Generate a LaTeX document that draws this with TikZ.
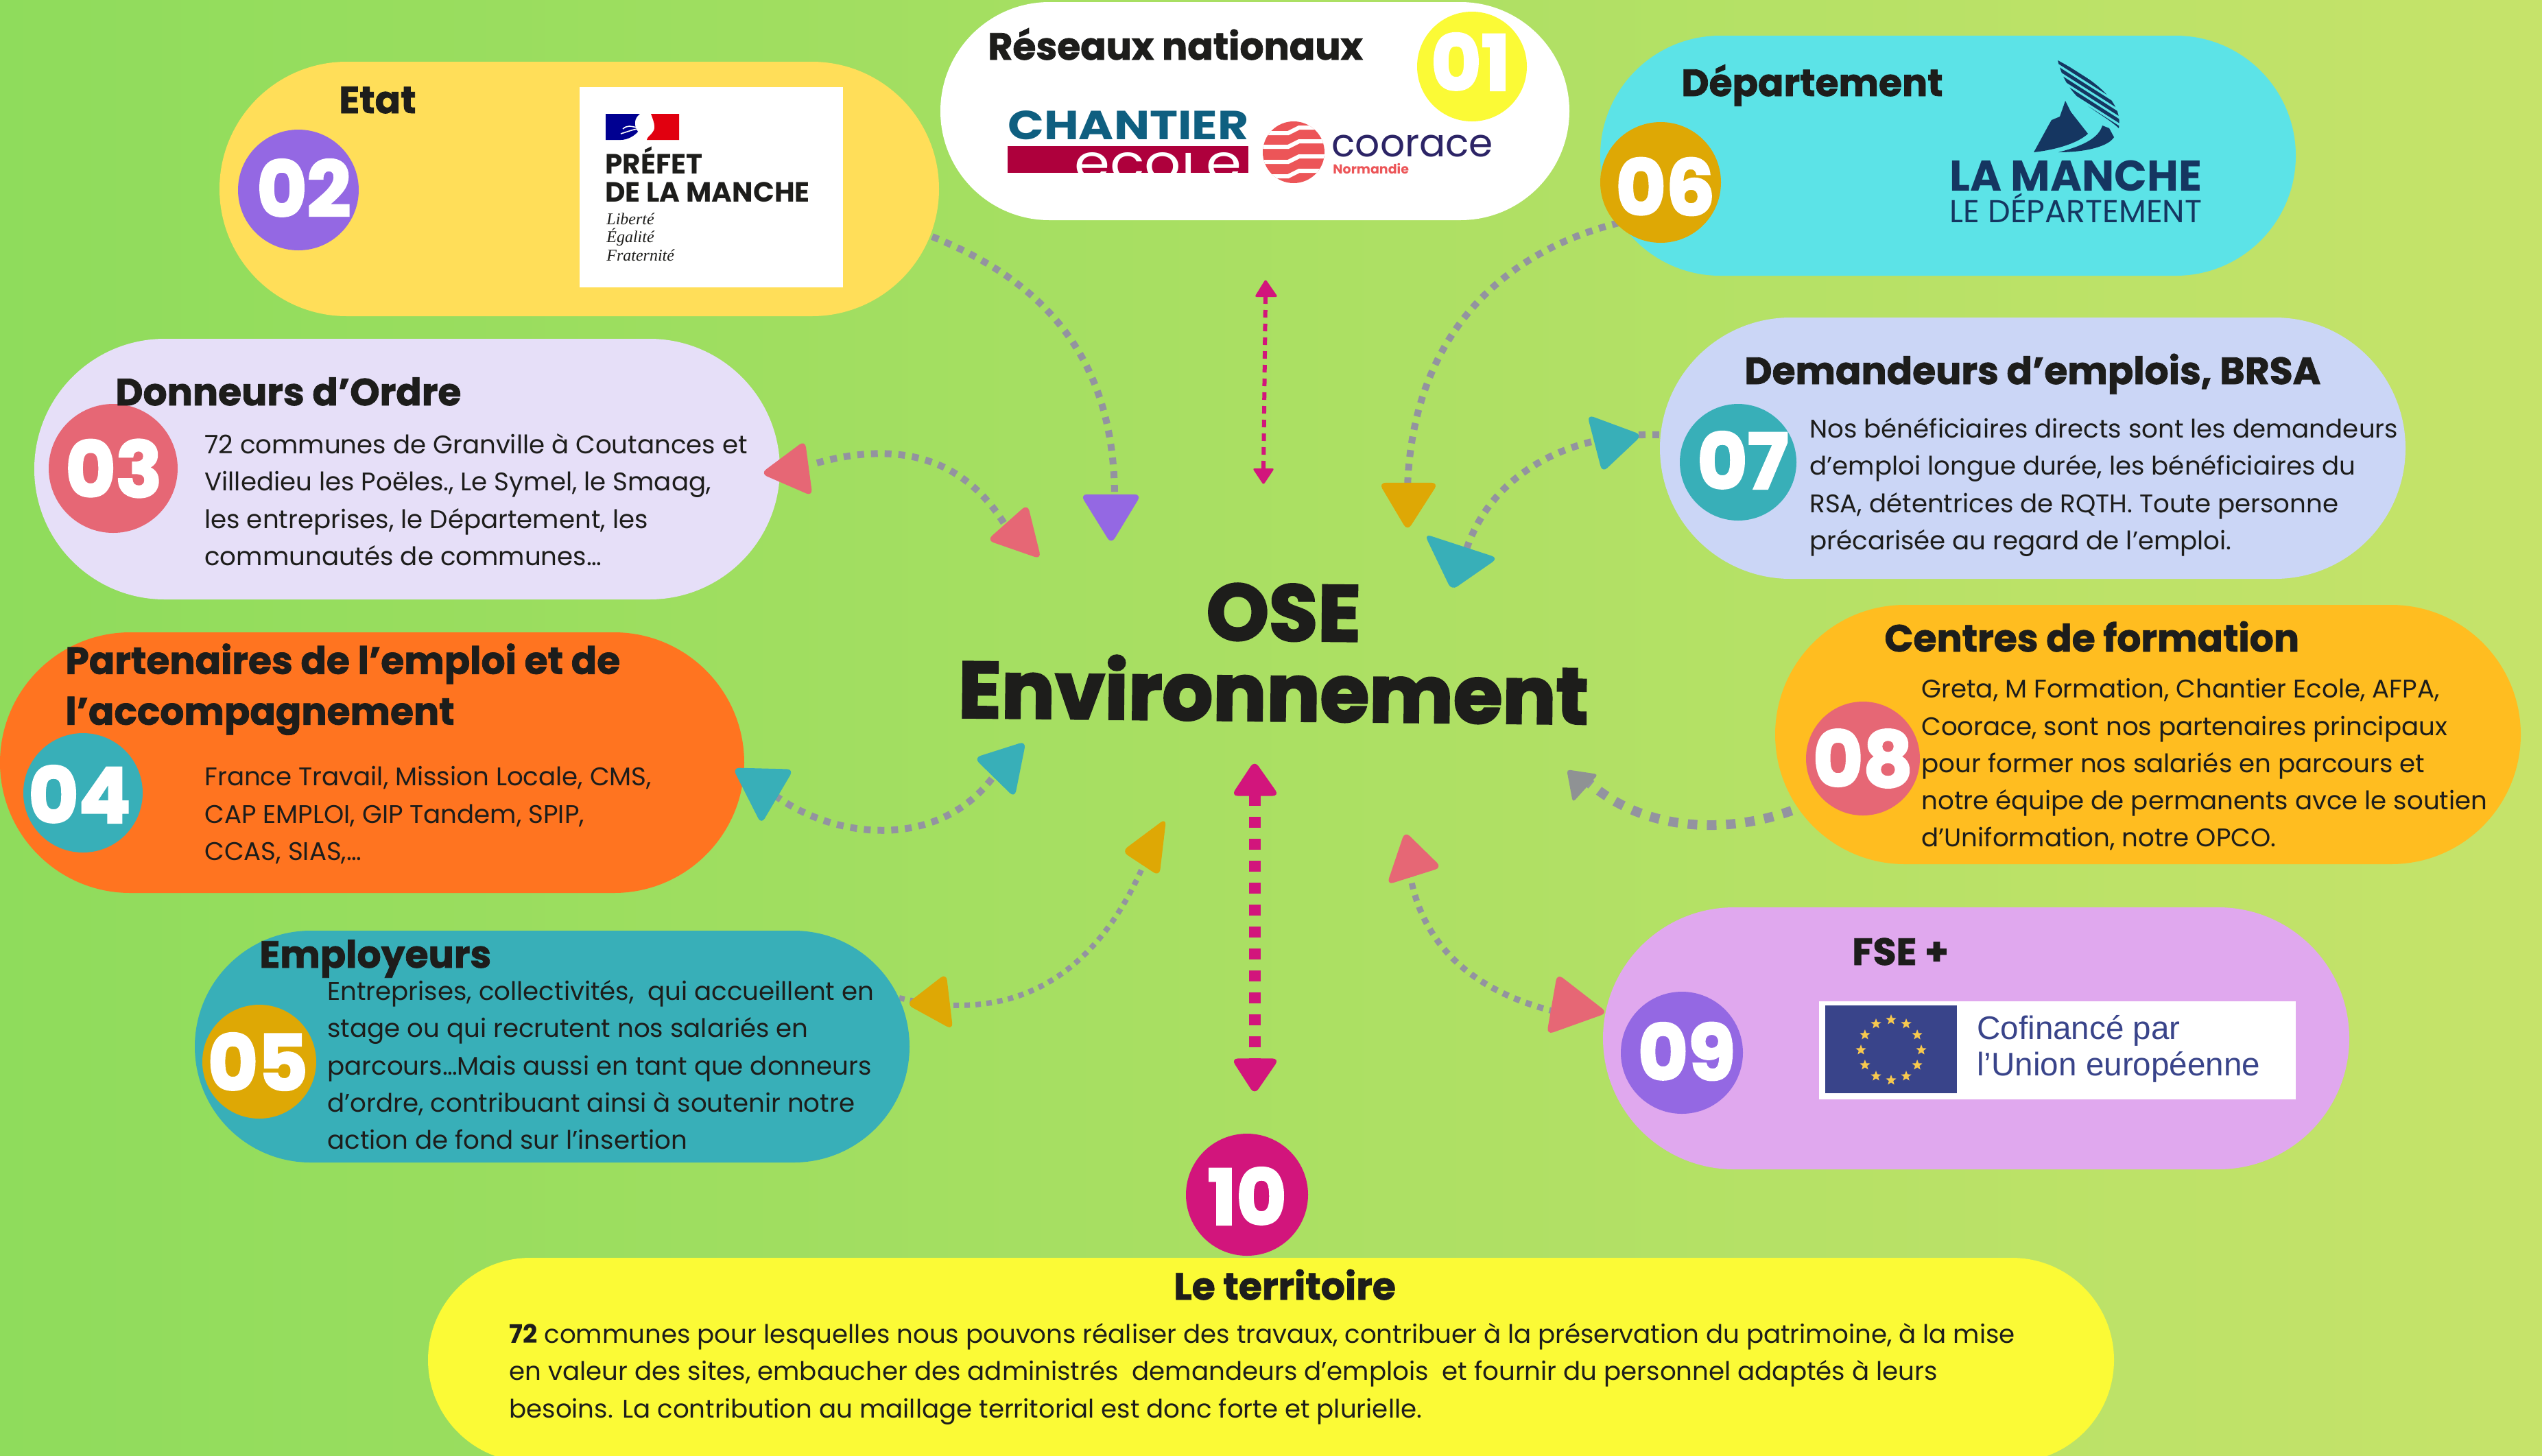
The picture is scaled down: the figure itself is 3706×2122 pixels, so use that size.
\documentclass[tikz,border=0pt]{standalone}
\usepackage{fontspec}
\usepackage{graphicx}
\usetikzlibrary{shapes.misc,shapes.geometric,fit,calc}
\setmainfont{Poppins}
\newfontfamily\hv{Poppins}[BoldFeatures={FakeBold=1.4}]
\newfontfamily\hvv{Poppins}[BoldFeatures={FakeBold=2.6}]
\newfontfamily\ser{Liberation Serif}
\newfontfamily\ari{Liberation Sans}
\definecolor{bgl}{HTML}{8FDC5C}
\definecolor{bgr}{HTML}{C6E36A}
\definecolor{ink}{HTML}{1D1D1B}
\definecolor{cgray}{HTML}{9393A0}
\definecolor{cgrayb}{HTML}{8F9294}
\definecolor{cmag}{HTML}{D2157C}
\definecolor{cteal}{HTML}{38AFB8}
\definecolor{ccoral}{HTML}{E66775}
\definecolor{cpurp}{HTML}{9468E3}
\definecolor{camb}{HTML}{DEA805}
\definecolor{cyel}{HTML}{FFDE59}
\definecolor{ccyan}{HTML}{5CE3E7}
\definecolor{cperi}{HTML}{CBD6F6}
\definecolor{clav}{HTML}{E6DFF8}
\definecolor{corg}{HTML}{FF7420}
\definecolor{cgold}{HTML}{FFBD20}
\definecolor{cpink}{HTML}{E0A8EE}
\definecolor{clem}{HTML}{FBFA36}
\definecolor{navy}{HTML}{153661}
\definecolor{eub}{HTML}{39448A}
\definecolor{eus}{HTML}{F8C94E}
\definecolor{rfb}{HTML}{000091}
\definecolor{rfr}{HTML}{E1000F}
\definecolor{chb}{HTML}{0F5F80}
\definecolor{chr}{HTML}{AE003C}
\definecolor{cop}{HTML}{2C2466}
\definecolor{cor}{HTML}{EC5558}
\tikzset{
 pill/.style={rounded rectangle,inner sep=0pt,outer sep=0pt,fill=#1,draw=none},
 numc/.style={circle,fill=#1,inner sep=0pt},
 numt/.style={inner sep=0pt,text=white,font=\hvv\bfseries\fontsize{56}{56}\selectfont},
 head/.style={anchor=base west,inner sep=0pt,text=ink,font=\hv\bfseries\fontsize{27.6}{27.6}\selectfont},
 body/.style={anchor=north west,inner sep=0pt,text=ink,align=left,font=\fontsize{18.6}{27.15}\selectfont},
 link/.style={draw=cgray,line width=#1pt,dash pattern=on #1pt off #1pt},
 tipshape/.style={fill=#1,rounded corners=5pt},
 eustar/.style={star,star points=5,star point ratio=2.4,fill=#1,inner sep=0pt,minimum size=8pt},
 logotext/.style={anchor=base west,inner sep=0pt,text=#1},
}
\newcommand{\tipmark}[4]{\coordinate (cc) at (barycentric cs:#2=1,#3=1,#4=1);
 \fill[tipshape=#1] ($(cc)!1.1!(#2)$)--($(cc)!1.1!(#3)$)--($(cc)!1.1!(#4)$)--cycle;}
\begin{document}
\begin{tikzpicture}[x=0.5pt,y=-0.5pt]
\useasboundingbox (0,0) rectangle (3706,2122);
\clip (0,0) rectangle (3706,2122);
\shade[left color=bgl,right color=bgr] (0,0) rectangle (3706,2122);
% connector ends
\coordinate (a1) at (1359,345); \coordinate (a2) at (1625,726);
\coordinate (b1) at (2360,325); \coordinate (b2) at (2052,710);
\coordinate (c1) at (1191,675); \coordinate (c2) at (1465,765);
\coordinate (d1) at (2419,634); \coordinate (d2) at (2135,810);
\coordinate (e1) at (1130,1160); \coordinate (e2) at (1450,1130);
\coordinate (f1) at (1311,1455); \coordinate (f2) at (1672,1250);
\coordinate (g1) at (2055,1270); \coordinate (g2) at (2290,1480);
\coordinate (h1) at (2612,1182); \coordinate (h2) at (2315,1140);
\coordinate (m1) at (1845,432); \coordinate (m2) at (1842,683);
\coordinate (n1) at (1829,1159); \coordinate (n2) at (1829,1545);
% connectors
\draw[link=5] (a1) .. controls (1520,410) and (1625,520) .. (a2);
\draw[link=5] (b1) .. controls (2200,365) and (2060,480) .. (b2);
\draw[link=5] (c1) .. controls (1300,645) and (1400,660) .. (c2);
\draw[link=5] (d1) .. controls (2290,630) and (2170,690) .. (d2);
\draw[link=5] (e1) .. controls (1220,1225) and (1370,1240) .. (e2);
\draw[link=4] (f1) .. controls (1500,1500) and (1610,1400) .. (f2);
\draw[link=4.5] (g1) .. controls (2070,1370) and (2140,1450) .. (g2);
\draw[link=7] (h1) .. controls (2520,1215) and (2400,1215) .. (h2);
\draw[draw=cmag,line width=3pt,dash pattern=on 5.5pt off 4.5pt] (m1) -- (m2);
\draw[draw=cmag,line width=8.5pt,dash pattern=on 8pt off 8pt] (n1) -- (n2);
% pills
\node[pill=white,fit={(1530,3) (2129,321)}] (p01) {};
\node[pill=cyel,fit={(505.5,90) (1183.5,461)}] (p02) {};
\node[pill=clav,fit={(240,494) (947,874)}] (p03) {};
\node[pill=corg,fit={(190,922) (895,1302)}] (p04) {};
\node[pill=cteal,fit={(453,1357) (1157,1695)}] (p05) {};
\node[pill=ccyan,fit={(2508,52) (3172,402)}] (p06) {};
\node[pill=cperi,fit={(2610.5,463) (3316.5,844)}] (p07) {};
\node[pill=cgold,fit={(2777,882) (3486,1260)}] (p08) {};
\node[pill=cpink,fit={(2528,1323) (3234,1705)}] (p09) {};
\node[pill=clem,fit={(773,1834) (2933,2132)}] (p10) {};
% tips
\coordinate (t1a) at (1579,723);\coordinate (t1b) at (1660,723);\coordinate (t1c) at (1620,789);
\tipmark{cpurp}{t1a}{t1b}{t1c}
\coordinate (t2a) at (2014,706);\coordinate (t2b) at (2093,706);\coordinate (t2c) at (2052,770);
\tipmark{camb}{t2a}{t2b}{t2c}
\coordinate (t3a) at (1113,690);\coordinate (t3b) at (1172,646);\coordinate (t3c) at (1182,720);
\tipmark{ccoral}{t3a}{t3b}{t3c}
\coordinate (t4a) at (1497,739);\coordinate (t4b) at (1443,787);\coordinate (t4c) at (1515,812);
\tipmark{ccoral}{t4a}{t4b}{t4c}
\coordinate (t5a) at (2317,608);\coordinate (t5b) at (2390,635);\coordinate (t5c) at (2337,685);
\tipmark{cteal}{t5a}{t5b}{t5c}
\coordinate (t6a) at (2081,782);\coordinate (t6b) at (2179,814);\coordinate (t6c) at (2117,857);
\tipmark{cteal}{t6a}{t6b}{t6c}
\coordinate (t7a) at (1072,1122);\coordinate (t7b) at (1153,1124);\coordinate (t7c) at (1110,1197);
\tipmark{cteal}{t7a}{t7b}{t7c}
\coordinate (t8a) at (1493,1084);\coordinate (t8b) at (1424,1106);\coordinate (t8c) at (1478,1159);
\tipmark{cteal}{t8a}{t8b}{t8c}
\coordinate (t9a) at (2284,1122);\coordinate (t9b) at (2330,1129);\coordinate (t9c) at (2293,1170);
\fill[fill=cgrayb,rounded corners=2.5pt] (t9a)--(t9b)--(t9c)--cycle;
\coordinate (t10a) at (1829,1112);\coordinate (t10b) at (1798,1159);\coordinate (t10c) at (1862,1159);
\tipmark{cmag}{t10a}{t10b}{t10c}
\coordinate (t11a) at (1798,1545);\coordinate (t11b) at (1862,1545);\coordinate (t11c) at (1829,1593);
\tipmark{cmag}{t11a}{t11b}{t11c}
\coordinate (t12a) at (1698,1197);\coordinate (t12b) at (1639,1241);\coordinate (t12c) at (1689,1274);
\tipmark{camb}{t12a}{t12b}{t12c}
\coordinate (t13a) at (1378,1423);\coordinate (t13b) at (1325,1464);\coordinate (t13c) at (1387,1498);
\tipmark{camb}{t13a}{t13b}{t13c}
\coordinate (t14a) at (2049,1216);\coordinate (t14b) at (2098,1264);\coordinate (t14c) at (2025,1287);
\tipmark{ccoral}{t14a}{t14b}{t14c}
\coordinate (t15a) at (2272,1424);\coordinate (t15b) at (2339,1476);\coordinate (t15c) at (2258,1505);
\tipmark{ccoral}{t15a}{t15b}{t15c}
\coordinate (t16a) at (1845,407);\coordinate (t16b) at (1829,433);\coordinate (t16c) at (1863,433);
\fill[fill=cmag,rounded corners=1.5pt] (t16a)--(t16b)--(t16c)--cycle;
\coordinate (t17a) at (1826,683);\coordinate (t17b) at (1858,683);\coordinate (t17c) at (1842,707);
\fill[fill=cmag,rounded corners=1.5pt] (t17a)--(t17b)--(t17c)--cycle;
% numbers
\node[numc=clem,minimum size=80pt] (n01) at (2146,97) {};
\node[numt] (d01) at (2144,90) {01};
\node[numc=cpurp,minimum size=88pt] (n02) at (435,277) {};
\node[numt] (d02) at (443,274) {02};
\node[numc=ccoral,minimum size=94pt] (n03) at (165,683) {};
\node[numt] (d03) at (166,683) {03};
\node[numc=cteal,minimum size=87pt] (n04) at (121,1156) {};
\node[numt] (d04) at (116,1158) {04};
\node[numc=camb,minimum size=83pt] (n05) at (378,1548) {};
\node[numt] (d05) at (376,1548) {05};
\node[numc=camb,minimum size=88pt] (n06) at (2421,266) {};
\node[numt] (d06) at (2428,272) {06};
\node[numc=cteal,minimum size=85pt] (n07) at (2534,674) {};
\node[numt] (d07) at (2541,671) {07};
\node[numc=ccoral,minimum size=83pt] (n08) at (2716,1106) {};
\node[numt] (d08) at (2716,1106) {08};
\node[numc=cpurp,minimum size=89pt] (n09) at (2452,1535) {};
\node[numt] (d09) at (2459,1533) {09};
\node[numc=cmag,minimum size=89pt] (n10) at (1818,1742) {};
\node[numt] (d10) at (1818,1744) {10};
% headings
\node[head] (h01) at (1440,87) {Réseaux nationaux};
\node[head] (h02) at (494,165) {Etat};
\node[head] (h03) at (168,591) {Donneurs d’Ordre};
\node[head,align=left,anchor=north west,font=\hv\bfseries\fontsize{27.6}{37}\selectfont] (h04) at (95,938) {Partenaires de l’emploi et de\\l’accompagnement};
\node[head] (h05) at (378,1411) {Employeurs};
\node[head] (h06) at (2451,140) {Département};
\node[head] (h07) at (2543,560) {Demandeurs d’emplois, BRSA};
\node[head] (h08) at (2747,950) {Centres de formation};
\node[head] (h09) at (2700,1407) {FSE +};
\node[head] (h10) at (1711,1895) {Le territoire};
% body text
\node[body] (b03) at (298,632) {72 communes de Granville à Coutances et\\Villedieu les Poëles., Le Symel, le Smaag,\\les entreprises, le Département, les\\communautés de communes…};
\node[body] (b04) at (298,1117) {France Travail, Mission Locale, CMS,\\CAP EMPLOI, GIP Tandem, SPIP,\\CCAS, SIAS,…};
\node[body] (b05) at (477,1429) {Entreprises, collectivités,\ \ qui accueillent en\\stage ou qui recrutent nos salariés en\\parcours…Mais aussi en tant que donneurs\\d’ordre, contribuant ainsi à soutenir notre\\action de fond sur l’insertion};
\node[body] (b07) at (2638,609) {Nos bénéficiaires directs sont les demandeurs\\d’emploi longue durée, les bénéficiaires du\\RSA, détentrices de RQTH. Toute personne\\précarisée au regard de l’emploi.};
\node[body] (b08) at (2801,989) {Greta, M Formation, Chantier Ecole, AFPA,\\Coorace, sont nos partenaires principaux\\pour former nos salariés en parcours et\\notre équipe de permanents avce le soutien\\d’Uniformation, notre OPCO.};
\node[body] (b10) at (742,1929) {\textbf{72} communes pour lesquelles nous pouvons réaliser des travaux, contribuer à la préservation du patrimoine, à la mise\\en valeur des sites, embaucher des administrés\ \ demandeurs d’emplois\ \ et fournir du personnel adaptés à leurs\\besoins. La contribution au maillage territorial est donc forte et plurielle.};
% centre
\node[anchor=base,inner sep=0pt,text=ink,rotate=-0.6,font=\hvv\bfseries\fontsize{58}{58}\selectfont] (ose1) at (1871,934) {OSE};
\node[anchor=base,inner sep=0pt,text=ink,rotate=-0.6,font=\hvv\bfseries\fontsize{58}{58}\selectfont] (ose2) at (1856,1051) {Environnement};
% Prefet logo
\fill[white] (845,127) rectangle (1229,419);
\fill[rfb] (883,166) -- (933,166) .. controls (925,172) and (923,182) .. (930,192) .. controls (925,198) and (915,204) .. (905,204) -- (883,204) -- cycle;
\fill[rfr] (949,166) -- (990,166) -- (990,204) -- (943,204) .. controls (943,200) and (950,196) .. (952,192) .. controls (957,186) and (952,174) .. (949,166) -- cycle;
\draw[white,line width=0.8pt] (905,195) .. controls (915,192) and (925,188) .. (931,188);
\draw[white,line width=0.8pt] (908,188) .. controls (915,182) and (920,184) .. (928,186);
\node[logotext=ink,font=\bfseries\fontsize{20.3}{20.3}\selectfont] (pf1) at (882,253) {PRÉFET};
\node[logotext=ink,font=\bfseries\fontsize{20.3}{20.3}\selectfont] (pf2) at (882,294) {DE LA MANCHE};
\node[logotext=ink,font=\ser\itshape\fontsize{12}{12}\selectfont] (pf3) at (884,327) {Liberté};
\node[logotext=ink,font=\ser\itshape\fontsize{12}{12}\selectfont] (pf4) at (884,353) {Égalité};
\node[logotext=ink,font=\ser\itshape\fontsize{12}{12}\selectfont] (pf5) at (884,380) {Fraternité};
% Chantier Ecole logo
\node[anchor=base west,inner sep=0pt,text=chb] (ch1) at (1469,203) {\resizebox{175.5pt}{21pt}{\bfseries CHANTIER}};
\fill[chr] (1469,213) rectangle (1820,252);
\begin{scope}
\clip (1469,213) rectangle (1820,252);
\node[logotext=white] (ch2) at (1566,262) {\resizebox{122pt}{20pt}{eco\scalebox{1}[.78]{L}e}};
\end{scope}
% Coorace logo
\begin{scope}
\clip (1886,222) circle [radius=45];
\fill[cor] (1830,170) rectangle (1940,275);
\foreach \yy in {190,210,232,253} \draw[white,line width=3pt] (1830,\yy+4) -- (1878,\yy+4) -- (1894,\yy-4) -- (1940,\yy-4);
\end{scope}
\node[logotext=cop,font=\fontsize{28.3}{28.3}\selectfont] (co1) at (1941,228) {coorace};
\node[logotext=cor,font=\bfseries\fontsize{9.5}{9.5}\selectfont] (co2) at (1943,253) {Normandie};
% La Manche logo
\fill[navy] (2965,222) .. controls (2980,195) and (2985,185) .. (2991,175) -- (3003,170) -- (3011,147) -- (3019,163) -- (3044,195) .. controls (3030,208) and (3000,218) .. (2965,222) -- cycle;
\fill[navy] (3001,222) .. controls (3040,212) and (3060,200) .. (3065,183) -- (3075,187) -- (3082,200) .. controls (3075,212) and (3045,222) .. (3001,222) -- cycle;
\begin{scope}
\clip (3000,88) .. controls (3060,120) and (3095,150) .. (3089,187) .. controls (3060,160) and (3015,150) .. (3000,88) -- cycle;
\foreach \k in {0,...,11} \draw[navy,line width=2.5pt] (2985,80+\k*10) -- (3095,150+\k*10);
\end{scope}
\node[logotext=navy] (lm1) at (2842,278) {\resizebox{184pt}{!}{\bfseries LA MANCHE}};
\node[logotext=navy] (lm2) at (2842,324) {\resizebox{184pt}{!}{LE DÉPARTEMENT}};
% EU logo
\fill[white] (2652,1460) rectangle (3347,1603);
\fill[eub] (2661,1466) rectangle (2853,1594);
\foreach \a in {0,30,...,330} \node[eustar=eus] (st\a) at ({2757+44*cos(\a)},{1531-44*sin(\a)}) {};
\node[logotext=eub,font=\ari\fontsize{23.8}{23.8}\selectfont] (eu1) at (2882,1515) {Cofinancé par};
\node[logotext=eub,font=\ari\fontsize{23.8}{23.8}\selectfont] (eu2) at (2882,1568) {l’Union européenne};
\end{tikzpicture}
\end{document}
